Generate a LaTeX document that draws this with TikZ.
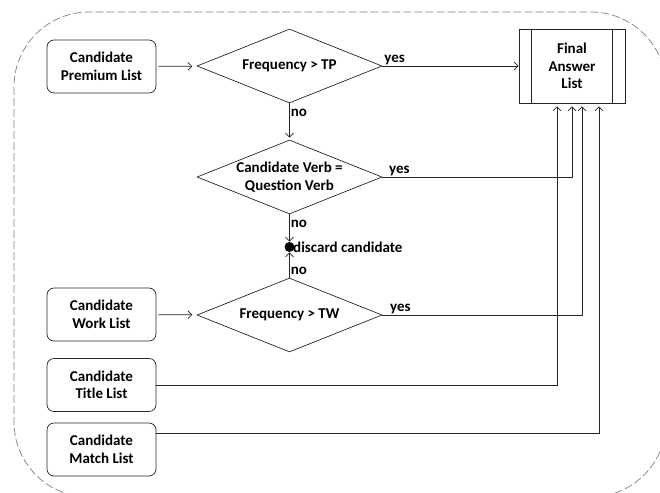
\documentclass[tikz,border=0pt]{standalone}
\usepackage{fontspec}
\setmainfont{Carlito}
\usetikzlibrary{shapes.geometric,calc,arrows.meta}
\tikzset{
  listbox/.style={draw, rounded corners=7pt, minimum width=109pt, minimum height=53pt,
    align=center, font=\bfseries\fontsize{15}{17.5}\selectfont},
  decision/.style={draw, diamond, minimum width=185pt, minimum height=74pt, inner sep=0pt},
  txt/.style={align=center, font=\bfseries\fontsize{15}{17.5}\selectfont},
  lbl/.style={font=\bfseries\fontsize{15}{17}\selectfont, inner sep=1pt}
}
\begin{document}
\begin{tikzpicture}[x=1pt, y=-1pt, >={Straight Barb[length=4pt,width=8pt]}, line width=0.7pt, draw=black!85]
			\useasboundingbox (0,0) rectangle (660,492);
			\draw[gray, dash pattern=on 8pt off 3pt, rounded corners=75pt] (14,12) rectangle (666,497);
			% input lists
			\node[listbox] (premium) at (101.5,66.5) {Candidate\\Premium List};
			\node[listbox] (work) at (101.5,314.5) {Candidate\\Work List};
			\node[listbox] (title) at (101.5,385) {Candidate\\Title List};
			\node[listbox] (match) at (101.5,449.5) {Candidate\\Match List};
			% decisions
			\node[decision] (d1) at (289.5,66) {};
			\node[txt] at (d1) {Frequency > TP};
			\node[decision] (d2) at (289.5,177) {};
			\node[txt] at (d2) {Candidate Verb =\\Question Verb};
			\node[decision] (d3) at (289.5,315) {};
			\node[txt] at (d3) {Frequency > TW};
			% discard point
			\node[circle, fill, inner sep=0pt, minimum size=10pt,
				label={[lbl, xshift=-3pt]right:discard candidate}] (drop) at (289.5,247) {};
			% final list
			\node[draw, minimum width=106pt, minimum height=74pt, txt] (final) at (572,66) {Final\\Answer\\List};
			\draw ($(final.north west)+(13,0)$) -- ($(final.south west)+(13,0)$);
			\draw ($(final.north east)+(-13,0)$) -- ($(final.south east)+(-13,0)$);
			\foreach \n/\dx in {f1/-15, f2/0, f3/10, f4/27}
				\coordinate (\n) at ($(final.south)+(\dx,3)$);
			\coordinate (mout) at ($(match.east)+(0,-16)$);
			% connectors
			\draw[->, shorten <=2pt, shorten >=5pt] (premium) -- (d1);
			\draw[->, shorten <=2pt, shorten >=5pt] (work) -- (d3);
			\draw[->] (d1.east) -- node[lbl, above, pos=0.09]{yes} (final.west);
			\draw[->, shorten >=2pt] (d1.south) -- node[lbl, right, pos=0.25]{no} (d2.north);
			\draw[->] (d2.south) -- node[lbl, right, pos=0.35]{no} (drop);
			\draw[->] (d3.north) -- node[lbl, right, pos=0.25]{no} (drop);
			\draw[->] (d2.east) -- node[lbl, above, pos=0.09]{yes} (d2.east -| f2) -- (f2);
			\draw[->] (d3.east) -- node[lbl, above, pos=0.09]{yes} (d3.east -| f3) -- (f3);
			\draw[->] (title.east) -| (f1);
			\draw[->] (mout) -| (f4);
		\end{tikzpicture}
\end{document}
